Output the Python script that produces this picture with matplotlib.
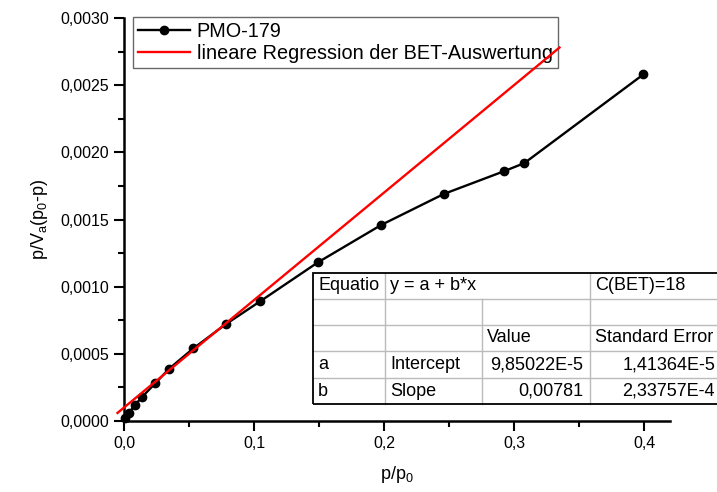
import matplotlib.pyplot as plt
from matplotlib.ticker import MultipleLocator, FuncFormatter
from matplotlib.lines import Line2D

plt.rcParams.update({
    "font.family": ["Liberation Sans", "DejaVu Sans"],
    "font.size": 11,
    "mathtext.fontset": "custom",
    "mathtext.rm": "Liberation Sans",
    "mathtext.it": "Liberation Sans",
})

# Messpunkte
p_rel = [0.001, 0.0038, 0.0085, 0.014, 0.024, 0.0348, 0.0533, 0.0782, 0.1046,
         0.149, 0.198, 0.246, 0.2925, 0.308, 0.3995]
bet_y = [0.00002, 0.00006, 0.00012, 0.00018, 0.00028, 0.00039, 0.00054, 0.00072,
         0.00089, 0.00118, 0.00146, 0.00169, 0.00186, 0.00192, 0.00258]

# lineare Regression (Endpunkte der gezeichneten Geraden)
fit_x = [-0.005, 0.335]
fit_y = [0.000060, 0.00278]

table_rows = [
    ["Equatio", "y = a + b*x", "", "C(BET)=18"],
    ["", "", "", ""],
    ["", "", "Value", "Standard Error"],
    ["a", "Intercept", "9,85022E-5", "1,41364E-5"],
    ["b", "Slope", "0,00781", "2,33757E-4"],
]

fig = plt.figure(figsize=(7.17, 4.92), dpi=100)
ax = fig.add_axes([124 / 717, 1 - 421 / 492, (670 - 124) / 717, (421 - 18) / 492])

ax.plot(p_rel, bet_y, color="black", lw=1.7, marker="o", ms=6, clip_on=False,
        zorder=3, label="PMO-179")
ax.plot(fit_x, fit_y, color="red", lw=1.7, zorder=4,
        label="lineare Regression der BET-Auswertung", clip_on=False)

ax.set_xlim(0, 0.42)
ax.set_ylim(0, 0.003)
ax.xaxis.set_major_locator(MultipleLocator(0.1))
ax.xaxis.set_minor_locator(MultipleLocator(0.05))
ax.yaxis.set_major_locator(MultipleLocator(0.0005))
ax.yaxis.set_minor_locator(MultipleLocator(0.00025))
ax.xaxis.set_major_formatter(FuncFormatter(lambda v, p: f"{v:.1f}".replace(".", ",")))
ax.yaxis.set_major_formatter(FuncFormatter(lambda v, p: f"{v:.4f}".replace(".", ",")))
ax.tick_params(which="major", direction="out", length=7, width=1.5, labelsize=11.5)
ax.tick_params(which="minor", direction="out", length=4, width=1.5)
for s in ["top", "right"]:
    ax.spines[s].set_visible(False)
for s in ["left", "bottom"]:
    ax.spines[s].set_linewidth(1.8)

ax.set_xlabel(r"p/p$_\mathregular{0}$", fontsize=13, labelpad=10)
ax.set_ylabel(r"p/V$_\mathregular{a}$(p$_\mathregular{0}$-p)", fontsize=13, labelpad=8)

leg = ax.legend(loc="upper left", bbox_to_anchor=(133 / 717, 1 - 17 / 492),
                bbox_transform=fig.transFigure, fontsize=14.3, frameon=True,
                fancybox=False, edgecolor="#444444", borderpad=0.25,
                handlelength=2.6, handletextpad=0.35, labelspacing=0.15,
                borderaxespad=0)
leg.get_frame().set_linewidth(1.0)
leg.set_zorder(2)

# Ergebnistabelle
col_edges = [313, 385, 482, 590, 722]
row_edges = [273, 299, 325, 351, 378, 404]
W, H = 717, 492
fx = lambda px: px / W
fy = lambda py: 1 - py / H
fig.patches.append(plt.Rectangle((fx(313), fy(404)), fx(722) - fx(313), fy(273) - fy(404),
                                 transform=fig.transFigure, facecolor="white",
                                 edgecolor="none", zorder=5))
for r in row_edges[1:-1]:
    fig.add_artist(Line2D([fx(313), fx(722)], [fy(r), fy(r)], color="#bbbbbb", lw=1, zorder=6))
for c in col_edges[1:-1]:
    top = 299 if c == 482 else 273
    fig.add_artist(Line2D([fx(c), fx(c)], [fy(top), fy(404)], color="#bbbbbb", lw=1, zorder=6))
fig.add_artist(plt.Rectangle((fx(313), fy(404)), fx(722) - fx(313), fy(273) - fy(404),
                             transform=fig.transFigure, facecolor="none",
                             edgecolor="black", lw=1.3, zorder=7))
for ri, row in enumerate(table_rows):
    yc = fy((row_edges[ri] + row_edges[ri + 1]) / 2)
    for ci, txt in enumerate(row):
        if not txt:
            continue
        if ri >= 3 and ci >= 2:
            fig.text(fx(583 if ci == 2 else 715), yc, txt, ha="right",
                     va="center", fontsize=13, zorder=8)
        else:
            fig.text(fx(col_edges[ci] + 5), yc, txt, ha="left", va="center",
                     fontsize=13, zorder=8)

fig.savefig("out.png", dpi=100)
